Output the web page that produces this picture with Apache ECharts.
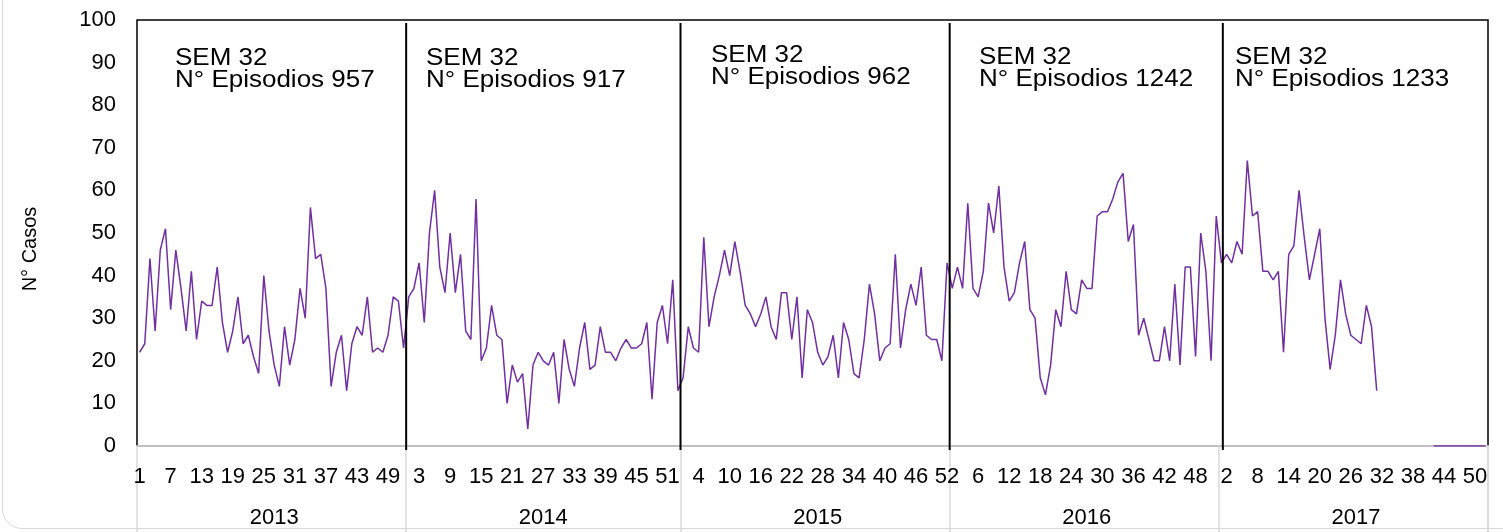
<!DOCTYPE html>
<html>
<head>
<meta charset="utf-8">
<script src="https://cdn.jsdelivr.net/npm/echarts@6/dist/echarts.min.js"></script>
<style>
html,body{margin:0;padding:0;background:#fff;overflow:hidden;}
#frame{position:absolute;left:2px;top:-40px;width:1600px;height:569px;border:1.5px solid #d9d9d9;border-radius:20px;box-sizing:border-box;}
#chart{position:absolute;left:0;top:0;width:1503px;height:532px;}
</style>
</head>
<body>
<div id="frame"></div>
<div id="chart"></div>
<script>
// ---- data (weekly cases by epidemiological week) ----
const years = ['2013', '2014', '2015', '2016', '2017'];
const cases2013 = [22,24,44,27,46,51,32,46,37,27, 41,25,34,33,33,42,29,22,27,35, 24,26,21,17,40,27,19,14,28,19, 25,37,30,56,44,45,37,14,22,26, 13,24,28,26,35,22,23,22,26,35, 34,23];
const cases2014 = [35,37,43,29,50,60,42,36,50,36, 45,27,25,58,20,23,33,26,25,10, 19,15,17,4,19,22,20,19,22,10, 25,18,14,23,29,18,19,28,22,22, 20,23,25,23,23,24,29,11,29,33, 24,39,13];
const cases2015 = [16,28,23,22,49,28,35,40,46,40, 48,41,33,31,28,31,35,28,25,36, 36,25,35,16,32,29,22,19,21,26, 16,29,25,17,16,25,38,31,20,23, 24,45,23,32,38,33,42,26,25,25, 20,43];
const cases2016 = [37,42,37,57,37,35,41,57,50,61, 42,34,36,43,48,32,30,16,12,19, 32,28,41,32,31,39,37,37,54,55, 55,58,62,64,48,52,26,30,25,20, 20,28,20,38,19,42,42,21,50,41, 20,54];
const cases2017 = [43,45,43,48,45,67,54,55,41,41, 39,41,22,45,47,60,49,39,45,51, 30,18,26,39,31,26,25,24,33,28, 13, null,null,null,null,null,null,null,null,null,null, 0,0,0,0,0,0,0,0,0,0,0];
const semText = ['SEM 32', 'SEM 32', 'SEM 32', 'SEM 32', 'SEM 32'];
const episodes = [957, 917, 962, 1242, 1233];
const yTickMin = 0, yTickMax = 100, yTickStep = 10;
const yTitle = 'N° Casos';

// ---- build category axis from the year arrays ----
const perYear = [cases2013, cases2014, cases2015, cases2016, cases2017];
const cats = [], values = [], starts = [], mids = [];
perYear.forEach((arr, yi) => {
  starts.push(cats.length);
  mids.push(cats.length + Math.round((arr.length - 1) / 2));
  arr.forEach((v, wi) => { cats.push(years[yi] + '|' + (wi + 1)); values.push(v); });
});

const FONT = '"Liberation Sans", Arial, sans-serif';
const chart = echarts.init(document.getElementById('chart'), null, {renderer: 'canvas'});

const option = {
  animation: false,
  grid: {left: 137, right: 15, top: 20, bottom: 86, show: true, borderColor: '#000', borderWidth: 1.5, backgroundColor: '#fff'},
  xAxis: [{
    type: 'category', data: cats, boundaryGap: true, position: 'bottom',
    axisLine: {show: true, lineStyle: {color: '#c0c0c0', width: 2}},
    axisTick: {show: true, interval: (i) => starts.includes(i) || i === cats.length, length: 86, lineStyle: {color: '#d9d9d9', width: 1.5}},
    axisLabel: {interval: 5, formatter: (v) => v.split('|')[1], fontSize: 22, color: '#000', fontFamily: FONT, margin: 20},
    splitLine: {show: false}
  }, {
    type: 'category', data: cats, boundaryGap: true, position: 'bottom', offset: 42,
    axisLine: {show: false}, axisTick: {show: false},
    axisLabel: {interval: (i) => mids.includes(i), formatter: (v) => v.split('|')[0], fontSize: 22, color: '#000', fontFamily: FONT, margin: 19},
    splitLine: {show: false}
  }],
  yAxis: {
    type: 'value', min: yTickMin, max: yTickMax, interval: yTickStep,
    splitLine: {show: false}, axisLine: {show: false}, axisTick: {show: false},
    axisLabel: {fontSize: 22, color: '#000', fontFamily: FONT, margin: 21}
  },
  series: [{
    type: 'line', data: values, xAxisIndex: 0, yAxisIndex: 0,
    showSymbol: false, symbol: 'none', connectNulls: false,
    lineStyle: {color: '#7030A0', width: 1.5}, itemStyle: {color: '#7030A0'}
  }]
};
chart.setOption(option);

// ---- year separators (hand-drawn shapes in the original) and annotations ----
const graphics = [];
const sepNudge = [0, 0, 0, 4];
starts.slice(1).forEach((s, k) => {
  const a = chart.convertToPixel({xAxisIndex: 0}, cats[s - 1]);
  const b = chart.convertToPixel({xAxisIndex: 0}, cats[s]);
  const x = (a + b) / 2 + sepNudge[k];
  graphics.push({type: 'line', z: 50, shape: {x1: x, y1: 23, x2: x, y2: 450}, style: {stroke: '#000', lineWidth: 2}});
});
const gridRect = chart.getModel().getComponent('grid').coordinateSystem.getRect();
graphics.push({type: 'line', z: 1, shape: {x1: gridRect.x + gridRect.width, y1: gridRect.y + gridRect.height, x2: gridRect.x + gridRect.width, y2: 532}, style: {stroke: '#d9d9d9', lineWidth: 1.5}});

const textX = [175, 426, 711, 979, 1235];
const textY = [47, 47, 44, 46, 46];
years.forEach((y, i) => {
  graphics.push({
    type: 'text', z: 60, x: textX[i], y: textY[i], scaleX: 1.13,
    style: {text: semText[i] + '\nN° Episodios ' + episodes[i], fontSize: 23, lineHeight: 22.5, fill: '#000', fontFamily: FONT, verticalAlign: 'top', align: 'left'}
  });
});
graphics.push({
  type: 'text', z: 60, x: 30, y: 249, rotation: Math.PI / 2,
  style: {text: yTitle, fontSize: 20, fill: '#000', fontFamily: FONT, align: 'center', verticalAlign: 'middle'}
});
chart.setOption({graphic: graphics});
</script>
</body>
</html>
